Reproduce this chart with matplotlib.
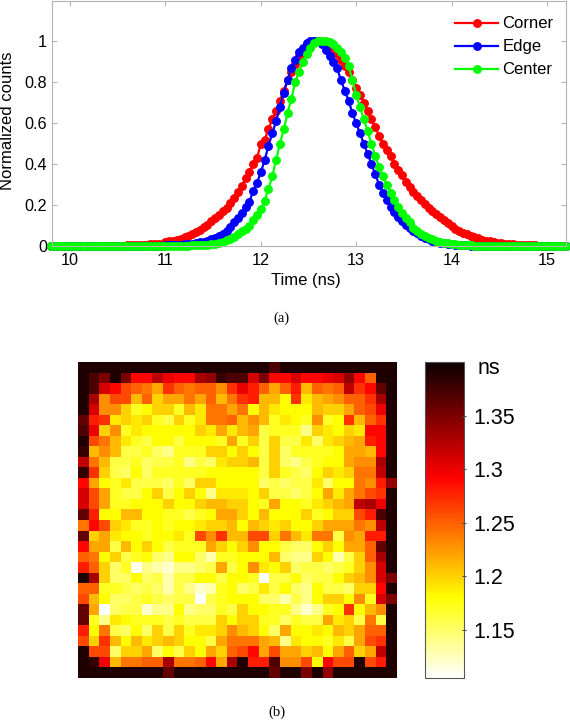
import numpy as np
import matplotlib
matplotlib.use('Agg')
import matplotlib.pyplot as plt

plt.rcParams['font.family'] = ['Liberation Sans', 'DejaVu Sans']

# Time axis (ns), one entry per histogram bin
time_ns = [
    9.80, 9.84, 9.88, 9.92, 9.96, 10.00, 10.04, 10.08, 10.12, 10.16,
    10.20, 10.24, 10.28, 10.32, 10.36, 10.40, 10.44, 10.48, 10.52, 10.56,
    10.60, 10.64, 10.68, 10.72, 10.76, 10.80, 10.84, 10.88, 10.92, 10.96,
    11.00, 11.04, 11.08, 11.12, 11.16, 11.20, 11.24, 11.28, 11.32, 11.36,
    11.40, 11.44, 11.48, 11.52, 11.56, 11.60, 11.64, 11.68, 11.72, 11.76,
    11.80, 11.84, 11.88, 11.92, 11.96, 12.00, 12.04, 12.08, 12.12, 12.16,
    12.20, 12.24, 12.28, 12.32, 12.36, 12.40, 12.44, 12.48, 12.52, 12.56,
    12.60, 12.64, 12.68, 12.72, 12.76, 12.80, 12.84, 12.88, 12.92, 12.96,
    13.00, 13.04, 13.08, 13.12, 13.16, 13.20, 13.24, 13.28, 13.32, 13.36,
    13.40, 13.44, 13.48, 13.52, 13.56, 13.60, 13.64, 13.68, 13.72, 13.76,
    13.80, 13.84, 13.88, 13.92, 13.96, 14.00, 14.04, 14.08, 14.12, 14.16,
    14.20, 14.24, 14.28, 14.32, 14.36, 14.40, 14.44, 14.48, 14.52, 14.56,
    14.60, 14.64, 14.68, 14.72, 14.76, 14.80, 14.84, 14.88, 14.92, 14.96,
    15.00, 15.04, 15.08, 15.12, 15.16, 15.20]

corner = [
    0, 0, 0, 0, 0, 0, 0, 0, 0, 0,
    0, 0, 0, 0, .001, .001, .001, .002, .002, .002,
    .003, .003, .004, .005, .006, .006, .008, .009, .011, .012,
    .02, .023, .026, .03, .035, .045, .05, .058, .066, .08,
    .095, .105, .12, .135, .15, .17, .185, .21, .235, .265,
    .295, .33, .36, .40, .43, .50, .52, .57, .62, .66,
    .71, .76, .81, .85, .89, .93, .95, .97, .99, 1.0,
    1.0, .995, .99, .97, .96, .94, .91, .88, .85, .81,
    .77, .74, .70, .66, .62, .58, .54, .50, .47, .44,
    .40, .37, .345, .315, .29, .265, .245, .225, .205, .185,
    .17, .155, .14, .125, .11, .10, .085, .075, .065, .058,
    .05, .043, .037, .031, .026, .022, .018, .015, .013, .011,
    .009, .008, .007, .006, .005, .004, .003, .003, .002, .002,
    .001, .001, .001, 0, 0, 0]

edge = [
    0, 0, 0, 0, 0, 0, 0, 0, 0, 0,
    0, 0, 0, 0, 0, 0, 0, 0, 0, 0,
    0, 0, 0, 0, .001, .001, .001, .002, .002, .002,
    .003, .004, .005, .006, .007, .008, .01, .012, .015, .018,
    .021, .026, .032, .04, .05, .06, .075, .095, .115, .135,
    .16, .19, .215, .27, .31, .36, .42, .49, .55, .61,
    .68, .75, .81, .87, .91, .95, .97, .99, 1.0, 1.0,
    1.0, .985, .96, .93, .90, .87, .81, .76, .71, .65,
    .60, .55, .50, .45, .40, .35, .30, .26, .225, .19,
    .165, .14, .12, .105, .09, .075, .062, .05, .04, .032,
    .026, .02, .016, .013, .01, .008, .006, .005, .004, .003,
    .002, .002, .001, .001, .001, 0, 0, 0, 0, 0,
    0, 0, 0, 0, 0, 0, 0, 0, 0, 0,
    0, 0, 0, 0, 0, 0]

center = [
    0, 0, 0, 0, 0, 0, 0, 0, 0, 0,
    0, 0, 0, 0, 0, 0, 0, 0, 0, 0,
    0, 0, 0, 0, 0, 0, 0, 0, 0, 0,
    0, 0, .001, .001, .001, .002, .002, .003, .003, .004,
    .005, .007, .009, .012, .015, .02, .027, .035, .045, .06,
    .075, .085, .10, .125, .15, .18, .22, .28, .34, .42,
    .50, .57, .65, .72, .80, .85, .90, .94, .97, .99,
    1.0, 1.0, 1.0, .995, .985, .97, .95, .92, .88, .81,
    .74, .68, .62, .56, .50, .44, .385, .34, .30, .26,
    .225, .19, .16, .135, .115, .09, .075, .06, .05, .04,
    .032, .026, .021, .017, .013, .01, .008, .006, .005, .004,
    .003, .002, .002, .001, .001, .001, 0, 0, 0, 0,
    0, 0, 0, 0, 0, 0, 0, 0, 0, 0,
    0, 0, 0, 0, 0, 0]

# FWHM map, hundredths of a ns, 30 x 30 pixels
fwhm_rows = [
    [139,139,139,139,139,139,139,139,139,139,139,139,139,139,139,139,139,139,137,139,139,139,139,139,139,139,139,139,139,139],
    [139,137,135,139,135,129,129,132,130,129,129,133,134,138,137,137,131,135,129,129,131,129,129,130,131,134,129,125,139,139],
    [139,137,131,129,126,125,124,122,127,125,124,125,125,123,127,130,128,125,122,125,128,121,125,124,125,132,127,129,136,139],
    [139,133,123,126,126,121,125,120,122,122,124,122,125,121,124,127,128,121,121,118,127,119,121,122,123,125,125,127,133,139],
    [139,131,123,123,120,117,118,120,120,117,121,119,124,124,122,124,118,121,119,118,118,118,121,120,120,122,125,126,130,139],
    [136,128,127,119,120,119,120,117,116,120,117,119,124,124,125,121,123,121,117,119,118,117,123,117,118,127,121,125,127,139],
    [137,130,120,123,117,119,118,118,118,118,118,120,119,122,119,121,122,116,117,117,117,114,120,119,118,120,119,129,129,139],
    [139,126,124,121,119,117,116,118,118,116,118,118,118,117,122,117,120,116,120,116,116,119,115,119,120,121,122,128,129,139],
    [138,121,123,121,116,116,117,115,114,117,117,117,120,120,118,120,118,116,120,115,117,117,117,117,118,122,122,121,129,139],
    [132,124,121,116,116,117,115,116,116,117,114,116,115,119,120,120,121,116,120,115,114,116,117,118,118,122,123,123,133,139],
    [138,127,120,116,115,118,115,117,117,117,117,117,118,118,118,118,118,116,120,117,116,115,118,120,119,120,124,124,132,139],
    [129,122,118,117,119,116,116,116,115,117,115,120,120,118,118,118,118,115,116,115,116,116,119,115,118,118,124,123,128,134],
    [131,126,122,117,116,116,118,120,116,118,120,118,114,119,119,119,118,120,116,116,115,116,118,122,119,122,124,126,127,139],
    [131,126,122,117,117,118,118,118,120,118,118,120,121,121,120,120,118,117,122,118,118,117,119,120,121,122,132,133,130,139],
    [136,128,118,118,121,121,118,118,117,117,116,117,118,122,122,120,118,121,118,118,118,120,117,118,120,120,126,128,137,139],
    [124,129,126,120,119,117,117,118,117,118,118,119,120,120,121,118,121,120,119,120,118,118,120,122,122,122,124,123,132,139],
    [136,120,122,119,118,118,117,118,118,119,117,126,123,127,121,121,126,126,120,124,121,119,124,124,116,123,122,128,128,139],
    [129,122,122,116,121,118,120,118,116,117,117,117,122,120,118,120,123,118,118,116,115,115,118,120,118,122,122,125,136,139],
    [125,124,118,120,116,117,118,115,114,118,118,115,113,117,117,118,118,118,121,115,114,114,120,118,113,116,120,125,133,139],
    [128,125,120,115,117,111,114,113,112,114,114,115,116,122,116,118,123,119,118,120,115,116,116,115,116,117,120,123,131,139],
    [139,133,120,115,115,118,115,116,113,116,116,118,118,116,118,118,117,109,116,116,118,115,116,116,118,120,121,123,131,135],
    [125,125,117,117,116,115,116,115,113,116,114,112,113,117,118,115,116,119,116,118,115,114,118,116,116,115,120,120,129,139],
    [126,121,118,115,115,116,117,116,115,116,116,110,116,117,118,118,118,115,115,113,116,114,118,120,120,118,123,117,131,135],
    [136,122,108,115,116,116,112,114,114,118,114,115,115,117,116,120,118,118,117,117,114,112,114,117,118,127,118,121,123,139],
    [136,117,114,119,118,117,117,117,116,117,116,116,116,120,118,120,120,117,117,115,117,116,116,122,119,120,116,124,116,139],
    [128,118,124,116,115,118,115,120,116,120,117,119,119,120,123,121,120,118,115,122,118,118,119,118,121,120,122,125,125,139],
    [126,120,127,121,118,121,119,120,121,120,118,118,116,122,124,124,124,122,121,114,119,118,118,117,119,116,122,126,127,139],
    [139,126,126,115,120,120,122,115,118,116,120,118,122,120,125,126,129,122,126,122,122,120,121,118,122,125,120,122,132,139],
    [139,138,130,121,124,124,125,125,133,124,124,125,129,122,133,139,128,128,137,123,123,126,118,129,126,126,139,126,128,139],
    [139,139,139,139,139,139,139,139,136,139,139,139,139,139,139,139,139,139,136,139,139,135,139,134,139,139,139,139,139,139],
]

x_ticks = [10, 11, 12, 13, 14, 15]
y_ticks = [0, 0.2, 0.4, 0.6, 0.8, 1]
y_ticklabels = ['0', '0.2', '0.4', '0.6', '0.8', '1']
cbar_ticks = [1.15, 1.2, 1.25, 1.3, 1.35]
cbar_ticklabels = ['1.15', '1.2', '1.25', '1.3', '1.35']

W, H = 570.0, 720.0
gray = '#b4b4b4'

def box(left, top, right, bottom):
    # pixel box of the reference to figure fractions
    return [left / W, 1 - bottom / H, (right - left) / W, (bottom - top) / H]

fig = plt.figure(figsize=(5.7, 7.2), dpi=100)

# (a) pulse shapes
ax = fig.add_axes(box(52, 0.5, 566, 246))
for y, col, name in [(corner, '#ff0000', 'Corner'), (edge, '#0000ff', 'Edge'), (center, '#00ff00', 'Center')]:
    ax.plot(time_ns, y, '-o', color=col, lw=1.6, ms=5.4, clip_on=False, label=name)
ax.set_xlim(9.81, 15.2)
ax.set_ylim(0, 1.2)
ax.set_xticks(x_ticks)
ax.set_yticks(y_ticks)
ax.set_yticklabels(y_ticklabels)
ax.tick_params(direction='in', length=3.5, width=0.8, color=gray, labelsize=11.7, top=True, right=True)
ax.tick_params(axis='x', pad=5)
ax.tick_params(axis='y', pad=3.5)
for s in ax.spines.values():
    s.set_color(gray)
ax.legend(loc='upper left', frameon=False, fontsize=12, bbox_to_anchor=(455 / W, 1 - 16.5 / H),
          bbox_transform=fig.transFigure, handlelength=2.6, labelspacing=0.48, handletextpad=0.25,
          borderpad=0, borderaxespad=0)
fig.text(306 / W, 1 - 281 / H, 'Time (ns)', ha='center', va='center', fontsize=12)
fig.text(8 / W, 1 - 121 / H, 'Normalized counts', ha='center', va='center', rotation=90, fontsize=12)
fig.text(281 / W, 1 - 318 / H, '(a)', ha='center', va='center', fontsize=10.5, family='Liberation Serif')

# (b) FWHM map
ax2 = fig.add_axes(box(78, 362, 397, 678))
im = ax2.imshow(np.array(fwhm_rows) / 100.0, cmap='hot_r', vmin=1.105, vmax=1.40,
                aspect='auto', interpolation='nearest')
ax2.set_xticks([])
ax2.set_yticks([])
for s in ax2.spines.values():
    s.set_visible(False)

cax = fig.add_axes(box(425, 362, 464, 678))
cb = fig.colorbar(im, cax=cax)
cb.set_ticks(cbar_ticks)
cb.set_ticklabels(cbar_ticklabels)
cb.outline.set_edgecolor('#555555')
cb.outline.set_linewidth(0.8)
cax.tick_params(axis='y', direction='inout', length=3, width=0.7, color='#444444', labelsize=15.5, pad=5)
fig.text(478 / W, 1 - 369 / H, 'ns', ha='left', va='center', fontsize=15.5)
fig.text(277 / W, 1 - 712 / H, '(b)', ha='center', va='center', fontsize=10.5, family='Liberation Serif')

fig.savefig('out.png', dpi=100)
